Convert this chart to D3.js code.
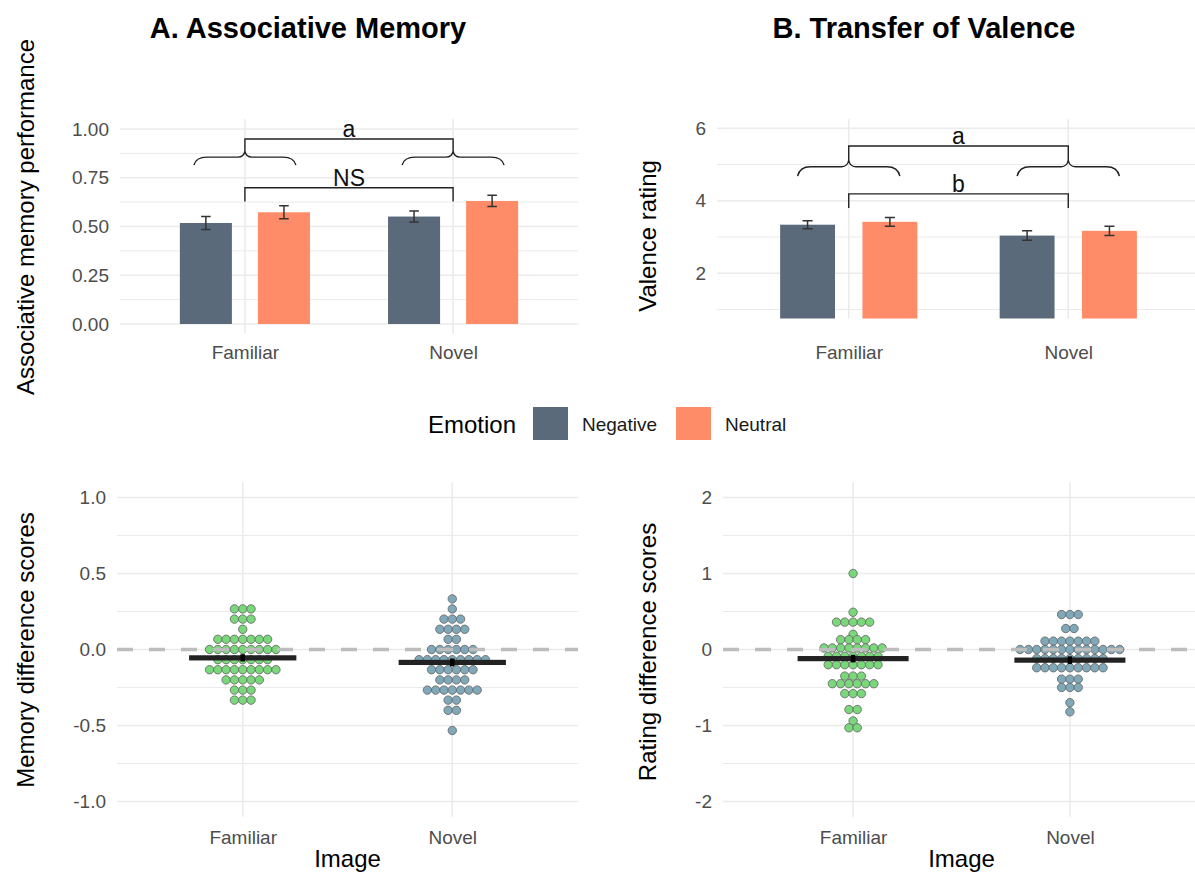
<!DOCTYPE html>
<html lang="en">
<head>
<meta charset="utf-8">
<script src="https://cdn.jsdelivr.net/npm/d3@7"></script>
<style>
  body { margin: 0; background: #fff; }
  svg text { font-family: "Liberation Sans", Arial, Helvetica, sans-serif; }
</style>
</head>
<body>
<svg id="chart" width="1195" height="879"></svg>
<script>
// ---- data ----
const images = ["Familiar", "Novel"];
const emotions = ["Negative", "Neutral"];
const emotionColors = ["#5b6a7b", "#ff8c69"];
const dotFills = ["#79d879", "#7fa8b9"]; // Familiar, Novel

// A (top): associative memory performance
const memNegative = [0.518, 0.551];
const memNeutral = [0.573, 0.631];
const memNegativeSE = [0.033, 0.028];
const memNeutralSE = [0.033, 0.029];

// B (top): valence rating
const valNegative = [3.34, 3.04];
const valNeutral = [3.42, 3.17];
const valNegativeSE = [0.11, 0.13];
const valNeutralSE = [0.12, 0.13];

// significance annotations, in data units
const memBrackets = [{ y: 0.949, leg: 0.887, label: "a" }, { y: 0.699, leg: 0.628, label: "NS" }];
const memBrace = { tip: 0.887, mid: 0.856, end: 0.815, half: 0.245 };
const valBrackets = [{ y: 5.51, leg: 5.125, label: "a" }, { y: 4.19, leg: 3.8, label: "b" }];
const valBrace = { tip: 5.125, mid: 4.94, end: 4.68, half: 0.233 };

// A (bottom): memory difference scores per participant
const memDiffFamiliar = [
  0.267, 0.267, 0.267, 0.2, 0.2, 0.2, 0.133,
  0.067, 0.067, 0.067, 0.067, 0.067, 0.067, 0.067,
  0, 0, 0, 0, 0, 0, 0, 0, 0,
  -0.067, -0.067, -0.067, -0.067, -0.067, -0.067, -0.067,
  -0.133, -0.133, -0.133, -0.133, -0.133, -0.133, -0.133, -0.133, -0.133,
  -0.2, -0.2, -0.2, -0.2, -0.2,
  -0.267, -0.267, -0.267, -0.333, -0.333, -0.333];
const memDiffNovel = [
  0.333, 0.267, 0.2, 0.2, 0.2, 0.133, 0.133, 0.133, 0.133, 0.067, 0.067,
  0, 0, 0, 0, 0, 0,
  -0.067, -0.067, -0.067, -0.067, -0.067, -0.067, -0.067, -0.067, -0.067,
  -0.133, -0.133, -0.133, -0.133, -0.133, -0.133,
  -0.2, -0.2, -0.2, -0.2,
  -0.267, -0.267, -0.267, -0.267, -0.267, -0.267, -0.267,
  -0.333, -0.333, -0.4, -0.4, -0.533];
const memDiffMean = [-0.055, -0.085];
const memDiffSE = [0.024, 0.026];

// B (bottom): rating difference scores per participant
const valDiffFamiliar = [
  1.0, 0.49, 0.36, 0.36, 0.36, 0.36, 0.36, 0.2, 0.13, 0.13, 0.13, 0.13,
  0.02, 0.02, 0.02, 0.02, 0.02, 0.02, 0.02, 0.02,
  -0.09, -0.09, -0.09, -0.09, -0.09, -0.09, -0.09,
  -0.2, -0.2, -0.2, -0.2, -0.2, -0.2, -0.2,
  -0.35, -0.35, -0.35, -0.45, -0.45, -0.45, -0.45, -0.45, -0.45,
  -0.58, -0.58, -0.58, -0.79, -0.79, -0.94, -1.03, -1.03];
const valDiffNovel = [
  0.46, 0.46, 0.46, 0.276, 0.276,
  0.11, 0.11, 0.11, 0.11, 0.11, 0.11, 0.11,
  0, 0, 0, 0, 0, 0, 0, 0, 0, 0, 0, 0, 0,
  -0.12, -0.12, -0.12, -0.12, -0.12, -0.12, -0.12, -0.12, -0.12,
  -0.24, -0.24, -0.24, -0.24, -0.24, -0.24, -0.24, -0.24, -0.24,
  -0.39, -0.39, -0.39, -0.5, -0.5, -0.5, -0.7, -0.82];
const valDiffMean = [-0.12, -0.14];
const valDiffSE = [0.05, 0.05];

// ---- drawing ----
const svg = d3.select("#chart");
const grey = "#ebebeb";
const fmt = f => d => d3.format(f)(d).replace("\u2212", "-");

function panel(p) {
  const x = d3.scalePoint().domain(images).range([p.left, p.right]).padding(0.6);
  const y = d3.scaleLinear().domain(p.yDomain).range([p.bottom, p.top]);

  svg.append("clipPath").attr("id", "clip" + p.name).append("rect")
    .attr("x", p.left).attr("y", p.top)
    .attr("width", p.right - p.left).attr("height", p.bottom - p.top);

  const grid = svg.append("g");
  grid.selectAll("line.minor").data(p.minor).join("line").attr("class", "minor")
    .attr("x1", p.left).attr("x2", p.right)
    .attr("y1", d => y(d)).attr("y2", d => y(d))
    .attr("stroke", grey).attr("stroke-width", 1);
  grid.selectAll("line.major").data(p.major).join("line").attr("class", "major")
    .attr("x1", p.left).attr("x2", p.right)
    .attr("y1", d => y(d)).attr("y2", d => y(d))
    .attr("stroke", grey).attr("stroke-width", 1.6);
  grid.selectAll("line.vert").data(images).join("line").attr("class", "vert")
    .attr("x1", d => x(d)).attr("x2", d => x(d))
    .attr("y1", p.top).attr("y2", p.bottom)
    .attr("stroke", grey).attr("stroke-width", 1.6);

  const ya = svg.append("g").attr("transform", `translate(${p.left},0)`)
    .call(d3.axisLeft(y).tickValues(p.major).tickFormat(fmt(p.fmt)).tickSize(0).tickPadding(11));
  ya.select(".domain").remove();
  ya.attr("font-size", 19).attr("font-family", null).selectAll("text").attr("fill", "#4d4d4d");

  const xa = svg.append("g").attr("transform", `translate(0,${p.labelY})`)
    .call(d3.axisBottom(x).tickSize(0).tickPadding(0));
  xa.select(".domain").remove();
  xa.attr("font-size", 19).attr("font-family", null).selectAll("text").attr("fill", "#4d4d4d");

  svg.append("text")
    .attr("transform", `translate(${p.yTitleX},${p.yTitleY}) rotate(-90)`)
    .attr("text-anchor", "middle").attr("font-size", 24).attr("fill", "#000")
    .text(p.yTitle);
  if (p.xTitle) {
    svg.append("text").attr("x", (p.left + p.right) / 2).attr("y", 867)
      .attr("text-anchor", "middle").attr("font-size", 24).text(p.xTitle);
  }
  const plot = svg.append("g").attr("clip-path", `url(#clip${p.name})`);
  return { x, y, plot, step: x.step() };
}

function drawBars(P, neg, neu, negSE, neuSE) {
  const dodge = d3.scaleOrdinal().domain(emotions).range([-0.1875, 0.1875]);
  const color = d3.scaleOrdinal().domain(emotions).range(emotionColors);
  const rows = images.flatMap((img, i) => [
    { img, emo: "Negative", v: neg[i], se: negSE[i] },
    { img, emo: "Neutral", v: neu[i], se: neuSE[i] }]);
  const bw = 0.25 * P.step, cap = 0.023 * P.step;
  const cx = d => P.x(d.img) + dodge(d.emo) * P.step;
  P.plot.selectAll("rect.bar").data(rows).join("rect").attr("class", "bar")
    .attr("x", d => cx(d) - bw / 2).attr("width", bw)
    .attr("y", d => P.y(d.v)).attr("height", d => P.y(0) - P.y(d.v))
    .attr("fill", d => color(d.emo));
  const eb = P.plot.selectAll("g.err").data(rows).join("g").attr("class", "err")
    .attr("stroke", "#333").attr("stroke-width", 1.5);
  eb.append("line").attr("x1", cx).attr("x2", cx)
    .attr("y1", d => P.y(d.v - d.se)).attr("y2", d => P.y(d.v + d.se));
  eb.append("line").attr("x1", d => cx(d) - cap).attr("x2", d => cx(d) + cap)
    .attr("y1", d => P.y(d.v + d.se)).attr("y2", d => P.y(d.v + d.se));
  eb.append("line").attr("x1", d => cx(d) - cap).attr("x2", d => cx(d) + cap)
    .attr("y1", d => P.y(d.v - d.se)).attr("y2", d => P.y(d.v - d.se));
}

function drawAnnotations(P, brackets, brace) {
  const g = svg.append("g").attr("fill", "none").attr("stroke", "#222").attr("stroke-width", 1.4);
  const x1 = P.x(images[0]), x2 = P.x(images[1]);
  brackets.forEach(b => {
    g.append("path").attr("d",
      `M${x1},${P.y(b.leg)}V${P.y(b.y)}H${x2}V${P.y(b.leg)}`);
    svg.append("text").attr("x", (x1 + x2) / 2).attr("y", P.y(b.y) - 2)
      .attr("text-anchor", "middle").attr("font-size", 23).attr("fill", "#111").text(b.label);
  });
  images.forEach(img => {
    const c = P.x(img), h = brace.half * P.step;
    const yt = P.y(brace.tip), ym = P.y(brace.mid), ye = P.y(brace.end);
    g.append("path").attr("d",
      `M${c - h},${ye}Q${c - h + 2},${ym} ${c - h + 13},${ym}` +
      `L${c - 7},${ym}Q${c - 1},${ym} ${c},${yt}` +
      `Q${c + 1},${ym} ${c + 7},${ym}` +
      `L${c + h - 13},${ym}Q${c + h - 2},${ym} ${c + h},${ye}`);
  });
}

function drawDots(P, series, means, ses) {
  const dotStep = 8.3;
  images.forEach((img, i) => {
    const dots = d3.groups(series[i], d => d).flatMap(([v, arr]) =>
      arr.map((_, k) => ({ v, off: k - (arr.length - 1) / 2 })));
    P.plot.append("g").selectAll("circle").data(dots).join("circle")
      .attr("cx", d => P.x(img) + d.off * dotStep).attr("cy", d => P.y(d.v))
      .attr("r", 4.2).attr("fill", dotFills[i])
      .attr("stroke", "#6b6b6b").attr("stroke-width", 0.9);
  });
  const [x0, x1] = P.x.range();
  P.plot.append("line").attr("x1", x0).attr("x2", x1)
    .attr("y1", P.y(0)).attr("y2", P.y(0))
    .attr("stroke", "#bdbdbd").attr("stroke-width", 3.5).attr("stroke-dasharray", "16,16");
  const hw = 0.256 * P.step;
  images.forEach((img, i) => {
    P.plot.append("rect").attr("x", P.x(img) - hw).attr("width", 2 * hw)
      .attr("y", P.y(means[i]) - 2.6).attr("height", 5.2).attr("fill", "#222");
    P.plot.append("line").attr("x1", P.x(img)).attr("x2", P.x(img))
      .attr("y1", P.y(means[i] - ses[i])).attr("y2", P.y(means[i] + ses[i]))
      .attr("stroke", "#000").attr("stroke-width", 4.5);
  });
}

// top panels
const A1 = panel({ name: "A1", left: 120, right: 578, top: 119.25, bottom: 333.75,
  yDomain: [-0.05, 1.05], major: [0, 0.25, 0.5, 0.75, 1], minor: [0.125, 0.375, 0.625, 0.875],
  fmt: ".2f", labelY: 345, yTitle: "Associative memory performance", yTitleX: 34, yTitleY: 217 });
drawBars(A1, memNegative, memNeutral, memNegativeSE, memNeutralSE);
drawAnnotations(A1, memBrackets, memBrace);

const B1 = panel({ name: "B1", left: 717, right: 1200, top: 119.2, bottom: 318.6,
  yDomain: [0.75, 6.25], major: [2, 4, 6], minor: [1, 3, 5],
  fmt: "d", labelY: 345, yTitle: "Valence rating", yTitleX: 656, yTitleY: 236 });
drawBars(B1, valNegative, valNeutral, valNegativeSE, valNeutralSE);
drawAnnotations(B1, valBrackets, valBrace);

// bottom panels
const A2 = panel({ name: "A2", left: 117, right: 578, top: 482.3, bottom: 816.7,
  yDomain: [-1.1, 1.1], major: [-1, -0.5, 0, 0.5, 1], minor: [-0.75, -0.25, 0.25, 0.75],
  fmt: ".1f", labelY: 830, yTitle: "Memory difference scores", yTitleX: 34, yTitleY: 650, xTitle: "Image" });
drawDots(A2, [memDiffFamiliar, memDiffNovel], memDiffMean, memDiffSE);

const B2 = panel({ name: "B2", left: 723, right: 1200, top: 482.3, bottom: 816.7,
  yDomain: [-2.2, 2.2], major: [-2, -1, 0, 1, 2], minor: [-1.5, -0.5, 0.5, 1.5],
  fmt: "d", labelY: 830, yTitle: "Rating difference scores", yTitleX: 656, yTitleY: 652, xTitle: "Image" });
drawDots(B2, [valDiffFamiliar, valDiffNovel], valDiffMean, valDiffSE);

// titles
svg.append("text").attr("x", 308).attr("y", 38).attr("text-anchor", "middle")
  .attr("font-size", 29).attr("font-weight", "bold").text("A. Associative Memory");
svg.append("text").attr("x", 924).attr("y", 38).attr("text-anchor", "middle")
  .attr("font-size", 29).attr("font-weight", "bold").text("B. Transfer of Valence");

// legend
const legend = svg.append("g");
legend.append("text").attr("x", 428).attr("y", 433).attr("font-size", 24).text("Emotion");
let lx = 533;
emotions.forEach((e, i) => {
  legend.append("rect").attr("x", lx).attr("y", 407).attr("width", 35).attr("height", 33)
    .attr("fill", emotionColors[i]);
  const t = legend.append("text").attr("x", lx + 49).attr("y", 431)
    .attr("font-size", 19).attr("fill", "#1a1a1a").text(e);
  lx += 49 + t.node().getComputedTextLength() + 19;
});
</script>
</body>
</html>
